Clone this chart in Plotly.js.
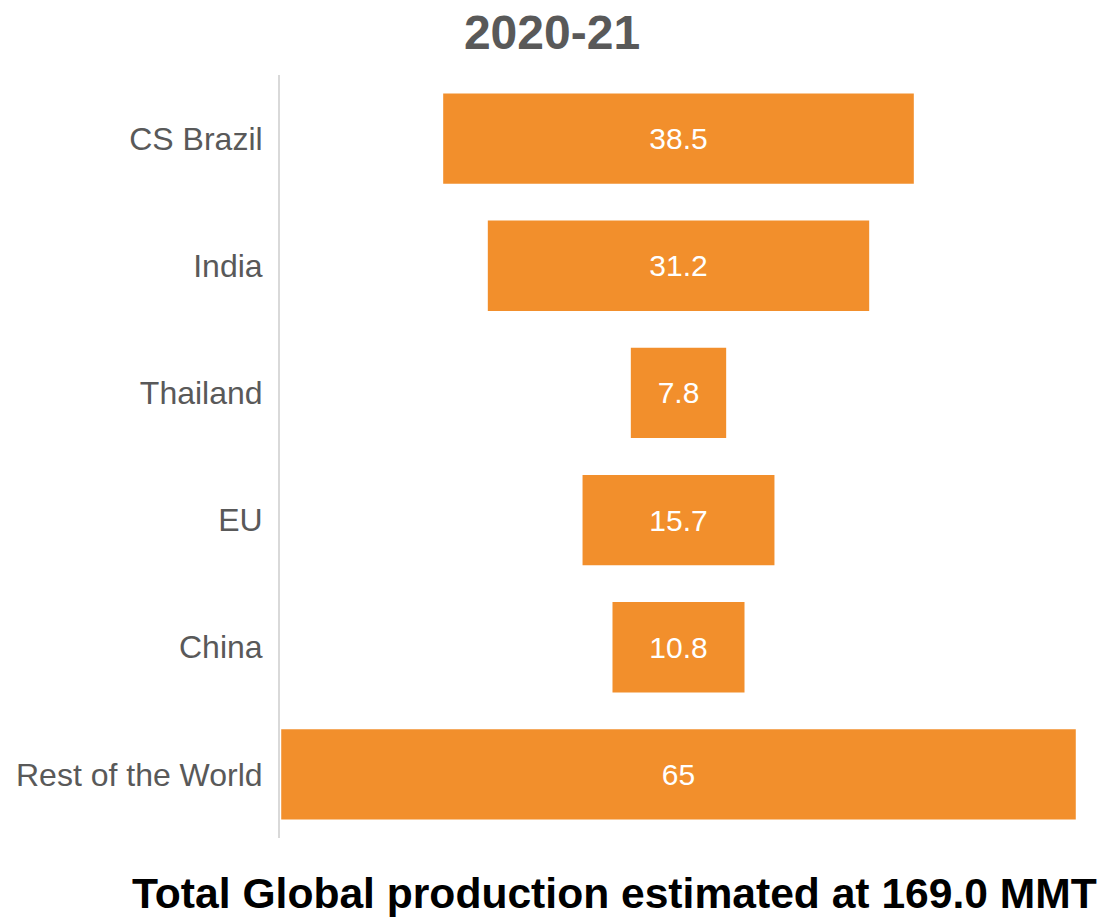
<!DOCTYPE html>
<html>
<head>
<meta charset="utf-8">
<script src="https://cdn.plot.ly/plotly-3.0.1.min.js"></script>
<style>html,body{margin:0;padding:0;background:#fff;}#chart{width:1104px;height:918px;}</style>
</head>
<body>
<div id="chart"></div>
<script>
const regions = ["CS Brazil", "India", "Thailand", "EU", "China", "Rest of the World"];
const production = [38.5, 31.2, 7.8, 15.7, 10.8, 65];
const chartTitle = "2020-21";
const footnote = "Total Global production estimated at 169.0 MMT";

const font = "Liberation Sans, Arial, sans-serif";

const trace = {
  type: "funnel",
  y: regions,
  x: production,
  marker: {color: "#F28F2C"},
  connector: {visible: false},
  textinfo: "value",
  textposition: "inside",
  insidetextanchor: "middle",
  textfont: {family: font, size: 30, color: "#ffffff"},
  constraintext: "none",
  hoverinfo: "y+x"
};

const layout = {
  width: 1104,
  height: 918,
  margin: {l: 280, r: 27, t: 75, b: 80, pad: 0},
  paper_bgcolor: "#ffffff",
  plot_bgcolor: "#ffffff",
  showlegend: false,
  funnelgap: 0.29,
  title: {
    text: "<b>" + chartTitle + "</b>",
    font: {family: font, size: 48, color: "#595959"},
    x: 0.5, xanchor: "center", xref: "container",
    y: 1 - 32 / 918, yanchor: "middle", yref: "container"
  },
  xaxis: {
    range: [-32.6, 32.6],
    visible: false,
    showgrid: false,
    zeroline: false
  },
  yaxis: {
    showline: true,
    linecolor: "#d9d9d9",
    linewidth: 2,
    showgrid: false,
    zeroline: false,
    ticks: "outside",
    ticklen: 9,
    tickcolor: "rgba(0,0,0,0)",
    tickfont: {family: font, size: 32, color: "#595959"}
  },
  annotations: [{
    text: "<b>" + footnote + "</b>",
    xref: "paper", yref: "paper",
    x: (1099 - 280) / 797, xanchor: "right",
    y: -(893 - 838) / 763, yanchor: "middle",
    showarrow: false,
    font: {family: font, size: 42.6, color: "#000000"}
  }]
};

Plotly.newPlot("chart", [trace], layout, {displayModeBar: false, staticPlot: true});
</script>
</body>
</html>
